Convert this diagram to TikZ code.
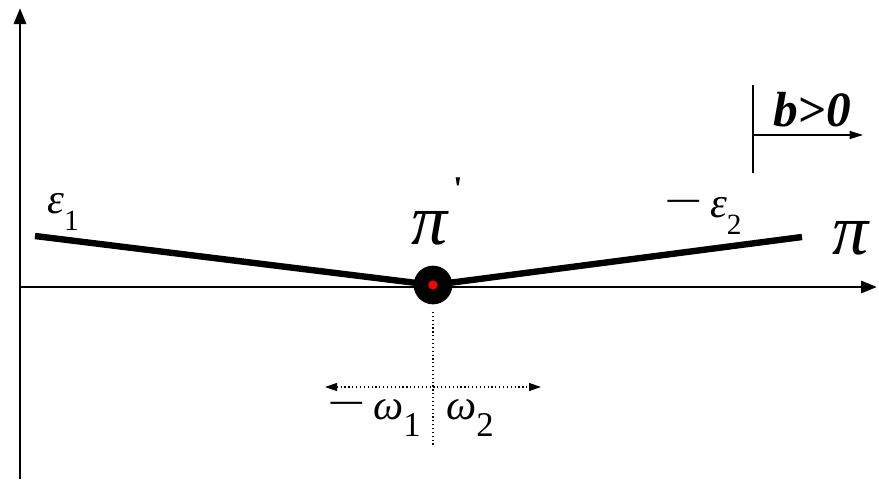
\documentclass[tikz,border=0pt]{standalone}
\usepackage{fontspec}
\setmainfont{Liberation Serif}
\usetikzlibrary{arrows.meta}
\newcommand{\fs}[1]{\fontsize{#1}{#1}\selectfont}
\newcommand{\subdig}[2]{\raisebox{-0.4em}{\fs{#1}#2}}
\newcommand{\mns}{\raisebox{0.04em}{\scalebox{1.6}[1]{−}}}
\begin{document}
\begin{tikzpicture}[x=0.75pt,y=-0.75pt,
  axis/.style={line width=2.2pt,-{Triangle[length=12pt,width=9pt]}},
  thick line/.style={line width=4.8pt},
  thin arrow/.style={line width=1pt,-{Triangle[length=10pt,width=6pt]}},
  dotline/.style={line width=0.9pt,dotted},
  lab/.style={inner sep=0pt}]
\useasboundingbox (0,0) rectangle (879,479);
% axes
\coordinate (o) at (20,287);
\coordinate (ytop) at (20,8);
\coordinate (ybot) at (20,479);
\coordinate (xend) at (877,287);
\draw[axis] (ybot) -- (ytop);
\draw[axis] (o) -- (xend);
% dot and thick lines
\coordinate (c) at (433,285);
\coordinate (l) at (35,236);
\coordinate (r) at (802,237);
\draw[thick line] (l) -- (c) -- (r);
\node[circle,fill=black,minimum size=29pt,inner sep=0pt] (dot) at (c) {};
\node[circle,fill=red,minimum size=7pt,inner sep=0pt] (red) at (c) {};
% dotted lines
\coordinate (dtop) at (433,312);
\coordinate (dbot) at (433,447);
\draw[dotline] (dtop) -- (dbot);
\coordinate (al) at (325,387);
\coordinate (ar) at (541,387);
\draw[dotline,{Triangle[length=9pt,width=6pt]}-{Triangle[length=9pt,width=6pt]}] (al) -- (ar);
% b>0 marker
\coordinate (bt) at (753,85);
\coordinate (bb) at (753,173);
\coordinate (bm) at (753,135);
\coordinate (be) at (863,135);
\draw[line width=1pt] (bt) -- (bb);
\draw[thin arrow] (bm) -- (be);
\node[lab] (b) at (812,110) {\fs{37}\bfseries\itshape b>0};
% labels
\node[lab] (e1) at (63,212) {\fs{32}\itshape ε\upshape\subdig{22}{1}};
\node[lab] (e2) at (703,216) {\fs{32}\mns\,\itshape ε\upshape\subdig{22}{2}};
\node[lab] (pi) at (851,238) {\fs{54}\itshape π};
\node[lab] (pip) at (430,228) {\fs{54}\itshape π};
\node[lab] (prime) at (458,189) {\fs{26}\bfseries\textquotesingle};
\node[lab,anchor=east] (w1) at (421,418) {\fs{32}\mns\,\itshape ω\upshape\subdig{26}{1}};
\node[lab,anchor=west] (w2) at (446,418) {\fs{32}\itshape ω\upshape\subdig{26}{2}};
\end{tikzpicture}
\end{document}
